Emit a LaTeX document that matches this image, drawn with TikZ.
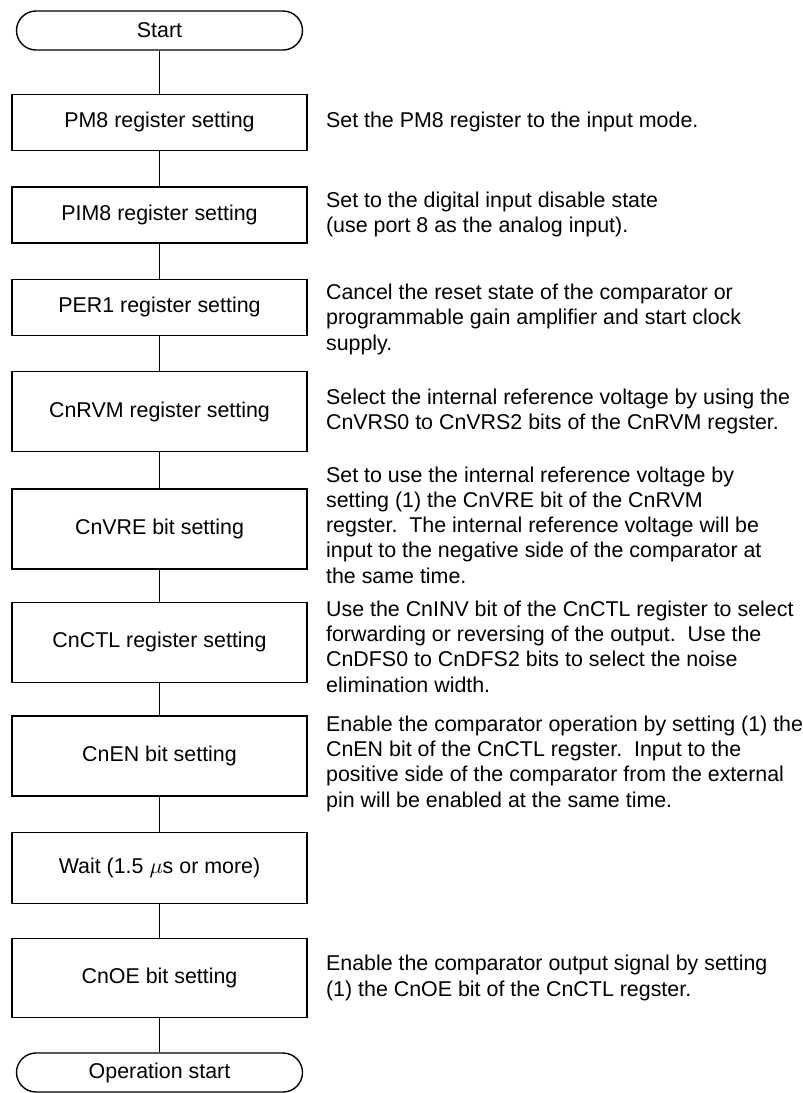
\documentclass[tikz,border=0pt]{standalone}
\usepackage{fontspec}
\setmainfont{Liberation Sans}
\usetikzlibrary{positioning}

\begin{document}
\begin{tikzpicture}[
    stepbox/.style={draw, line width=0.7pt, minimum width=147.5pt, minimum height=28pt, align=center},
    term/.style={draw, line width=0.7pt, rounded corners=9.75pt, minimum width=143pt, minimum height=19.5pt},
    note/.style={align=left, inner sep=0pt},
    link/.style={line width=0.5pt},
    node distance=17.5pt,
    font=\fontsize{10.7pt}{12.65pt}\selectfont
]
\useasboundingbox (0,0) rectangle (401.5pt,-546.5pt);

% flow column
\node[term] (start) at (79.75pt,-15.25pt) {Start};
\node[stepbox, below=21.5pt of start] (pm8) {PM8 register setting};
\node[stepbox, below=of pm8] (pim8) {PIM8 register setting};
\node[stepbox, below=of pim8] (per1) {PER1 register setting};
\node[stepbox, below=of per1, minimum height=40pt] (cnrvm) {CnRVM register setting};
\node[stepbox, below=18pt of cnrvm, minimum height=40pt] (cnvre) {CnVRE bit setting};
\node[stepbox, below=16pt of cnvre, minimum height=40pt] (cnctl) {CnCTL register setting};
\node[stepbox, below=16pt of cnctl, minimum height=40pt] (cnen) {CnEN bit setting};
\node[stepbox, below=of cnen, minimum height=35.5pt] (wait) {Wait (1.5 $\mu$s or more)};
\node[stepbox, below=17pt of wait, minimum height=39.5pt] (cnoe) {CnOE bit setting};
\node[term, below=17pt of cnoe] (opstart) {Operation start};

\foreach \a/\b in {start/pm8, pm8/pim8, pim8/per1, per1/cnrvm, cnrvm/cnvre,
                   cnvre/cnctl, cnctl/cnen, cnen/wait, wait/cnoe, cnoe/opstart}
    \draw[link] (\a) -- (\b);

% side notes
\node[note, right=9pt of pm8] (pm8note) {Set the PM8 register to the input mode.};
\node[note, right=9pt of pim8] (pim8note) {Set to the digital input disable state\\(use port 8 as the analog input).};
\node[note, right=9pt of per1, yshift=-6pt] (per1note) {Cancel the reset state of the comparator or\\programmable gain amplifier and start clock\\supply.};
\node[note, right=9pt of cnrvm] (cnrvmnote) {Select the internal reference voltage by using the\\CnVRS0 to CnVRS2 bits of the CnRVM regster.};
\node[note, right=9pt of cnvre, yshift=2pt] (cnvrenote) {Set to use the internal reference voltage by\\setting (1) the CnVRE bit of the CnRVM\\regster.\ \ The internal reference voltage will be\\input to the negative side of the comparator at\\the same time.};
\node[note, right=9pt of cnctl, yshift=-2pt] (cnctlnote) {Use the CnINV bit of the CnCTL register to select\\forwarding or reversing of the output.\ \ Use the\\CnDFS0 to CnDFS2 bits to select the noise\\elimination width.};
\node[note, right=9pt of cnen, yshift=-4pt] (cnennote) {Enable the comparator operation by setting (1) the\\CnEN bit of the CnCTL regster.\ \ Input to the\\positive side of the comparator from the external\\pin will be enabled at the same time.};
\node[note, right=9pt of cnoe] (cnoenote) {Enable the comparator output signal by setting\\(1) the CnOE bit of the CnCTL regster.};
\end{tikzpicture}
\end{document}
